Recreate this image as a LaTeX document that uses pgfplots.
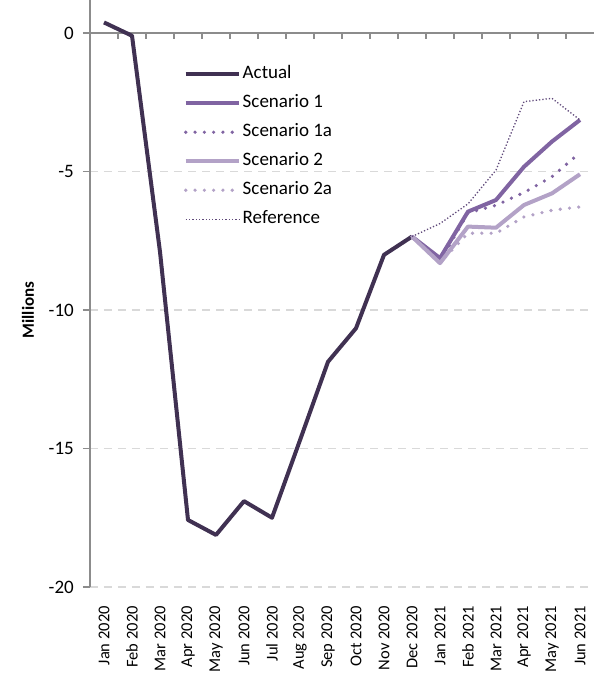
\documentclass[border=0pt]{standalone}
\usepackage{fontspec}
\setmainfont{Carlito}
\usepackage{pgfplots}
\pgfplotsset{compat=1.18}
\definecolor{cAct}{HTML}{403152}
\definecolor{cS1}{HTML}{8064A2}
\definecolor{cS2}{HTML}{B3A2C7}
\definecolor{cRef}{HTML}{604A7B}
\definecolor{cAxis}{HTML}{8C8C8C}
\definecolor{cGrid}{HTML}{D9D9D9}
\begin{document}
\begin{tikzpicture}
\begin{axis}[
  scale only axis, width=504bp, height=587bp,
  xmin=-0.5, xmax=17.5, ymin=-20, ymax=1.19,
  axis y line*=left, axis x line*=bottom,
  x axis line style={draw=none},
  y axis line style={draw=cAxis, line width=1.2bp, -},
  xtick={0,...,17},
  xticklabels={Jan 2020,Feb 2020,Mar 2020,Apr 2020,May 2020,Jun 2020,Jul 2020,Aug 2020,Sep 2020,Oct 2020,Nov 2020,Dec 2020,Jan 2021,Feb 2021,Mar 2021,Apr 2021,May 2021,Jun 2021},
  xtick style={draw=none},
  xticklabel style={rotate=90, anchor=east, inner sep=0pt, font=\fontsize{16.5bp}{19bp}\selectfont},
  xticklabel shift=12bp,
  ytick={-20,-15,...,0},
  ytick style={draw=cAxis, line width=1.2bp},
  tick align=outside, major tick length=7bp,
  yticklabel style={inner sep=0pt, font=\fontsize{19bp}{22bp}\selectfont},
  yticklabel shift=9bp,
  /pgf/number format/assume math mode=true,
  ymajorgrids,
  major grid style={draw=cGrid, line width=1.2bp, dash pattern=on 8bp off 6bp},
  ylabel={Millions},
  ylabel style={at={(axis description cs:0,0.472)}, anchor=center, yshift=62bp, xshift=0bp, font=\fontsize{17bp}{20bp}\selectfont\bfseries},
  legend style={at={(axis description cs:0.186,0.888)}, anchor=north west, draw=none, fill=none,
    inner sep=0pt, outer sep=0pt,
    font=\fontsize{19bp}{22bp}\selectfont, row sep=12bp, column sep=2bp,
    nodes={inner sep=0pt, text height=13bp, text depth=4bp}, cells={anchor=west}},
  legend image code/.code={\draw[#1] (0bp,0bp) -- (53bp,0bp);},
]
\draw[cAxis, line width=1.2bp] (axis cs:-0.5,0) -- (axis cs:17.5,0);
\pgfplotsinvokeforeach{0.5,1.5,...,16.5}{\draw[cAxis, line width=1.2bp] (axis cs:#1,0) -- ++(0bp,-6bp);}
\addplot[cAct, line width=4bp, line join=round] coordinates {
 (0,0.38) (1,-0.1) (2,-7.9) (3,-17.58) (4,-18.12) (5,-16.9) (6,-17.5) (7,-14.7) (8,-11.87) (9,-10.66) (10,-8.01) (11,-7.35)};
\addlegendentry{Actual}
\addplot[cS1, line width=4bp, line join=round] coordinates {
 (11,-7.35) (12,-8.13) (13,-6.45) (14,-6.03) (15,-4.83) (16,-3.92) (17,-3.14)};
\addlegendentry{Scenario 1}
\addplot[cS1, line width=3.6bp, line cap=round, dash pattern=on 0bp off 9.3bp] coordinates {
 (11,-7.35) (12,-8.25) (13,-6.5) (14,-6.22) (15,-5.76) (16,-5.19) (17,-4.32)};
\addlegendentry{Scenario 1a}
\addplot[cS2, line width=4bp, line join=round] coordinates {
 (11,-7.35) (12,-8.31) (13,-6.99) (14,-7.03) (15,-6.21) (16,-5.79) (17,-5.10)};
\addlegendentry{Scenario 2}
\addplot[cS2, line width=3.6bp, line cap=round, dash pattern=on 0bp off 9.3bp] coordinates {
 (11,-7.35) (12,-8.3) (13,-7.23) (14,-7.23) (15,-6.64) (16,-6.40) (17,-6.28)};
\addlegendentry{Scenario 2a}
\addplot[cRef, line width=1.3bp, dash pattern=on 1.3bp off 2bp] coordinates {
 (11,-7.35) (12,-6.88) (13,-6.17) (14,-4.95) (15,-2.48) (16,-2.36) (17,-3.14)};
\addlegendentry{Reference}
\end{axis}
\pgfresetboundingbox
\path[use as bounding box] (-90bp,-92bp) rectangle (506bp,587bp);
\end{tikzpicture}
\end{document}
